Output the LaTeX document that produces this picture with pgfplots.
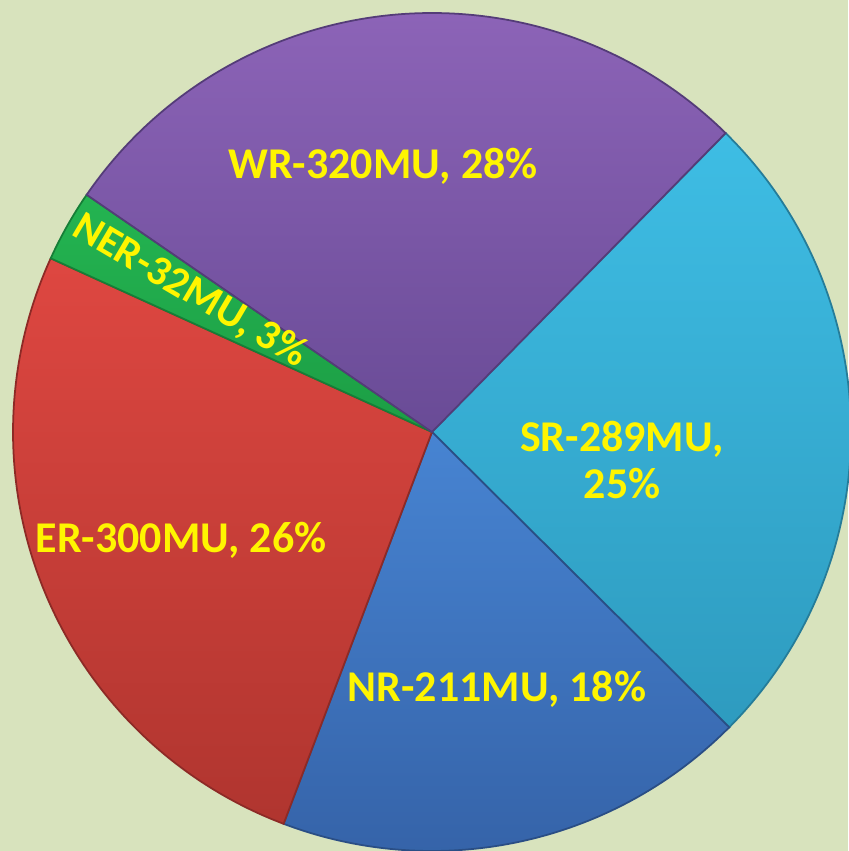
\documentclass[border=0pt]{standalone}
\usepackage{fontspec}
\setmainfont{Carlito}
\usepackage{pgfplots}
\pgfplotsset{compat=1.18}
\definecolor{bg}{HTML}{D8E3BD}
\definecolor{srT}{HTML}{3EBDE4}\definecolor{srB}{HTML}{2E9BBF}
\definecolor{nrT}{HTML}{4784D2}\definecolor{nrB}{HTML}{3461A6}
\definecolor{erT}{HTML}{DE4741}\definecolor{erB}{HTML}{B0352F}
\definecolor{neT}{HTML}{24B451}\definecolor{neB}{HTML}{1C9E45}
\definecolor{wrT}{HTML}{8D64B8}\definecolor{wrB}{HTML}{694B96}
\definecolor{lab}{HTML}{FFF500}
% data (MU)
\def\vSR{289}\def\vNR{211}\def\vER{300}\def\vNE{32}\def\vWR{320}
\pgfmathsetmacro{\tot}{\vSR+\vNR+\vER+\vNE+\vWR}
\pgfmathsetmacro{\aA}{45.5}
\pgfmathsetmacro{\aB}{\aA-360*(\vSR/\tot)}
\pgfmathsetmacro{\aC}{\aB-360*(\vNR/\tot)}
\pgfmathsetmacro{\aD}{\aC-360*(\vER/\tot)}
\pgfmathsetmacro{\aE}{\aD-360*(\vNE/\tot)}
\pgfmathsetmacro{\aF}{\aE-360*(\vWR/\tot)}
\begin{document}
\begin{tikzpicture}
\begin{axis}[scale only axis, width=8.48cm, height=8.51cm,
  xmin=0, xmax=848, ymin=0, ymax=851, hide axis, clip=false]
\fill[bg] (axis cs:0,0) rectangle (axis cs:848,851);
\def\R{4.19cm}
\shadedraw[top color=srT, bottom color=srB, draw=srB!80!black, line width=0.5pt]
  (axis cs:432,419) -- ++(\aA:\R) arc[start angle=\aA, end angle=\aB, radius=\R] -- cycle;
\shadedraw[top color=nrT, bottom color=nrB, draw=nrB!80!black, line width=0.5pt]
  (axis cs:432,419) -- ++(\aB:\R) arc[start angle=\aB, end angle=\aC, radius=\R] -- cycle;
\shadedraw[top color=erT, bottom color=erB, draw=erB!80!black, line width=0.5pt]
  (axis cs:432,419) -- ++(\aC:\R) arc[start angle=\aC, end angle=\aD, radius=\R] -- cycle;
\shadedraw[top color=neT, bottom color=neB, draw=neB!80!black, line width=0.5pt]
  (axis cs:432,419) -- ++(\aD:\R) arc[start angle=\aD, end angle=\aE, radius=\R] -- cycle;
\shadedraw[top color=wrT, bottom color=wrB, draw=wrB!80!black, line width=0.5pt]
  (axis cs:432,419) -- ++(\aE:\R) arc[start angle=\aE, end angle=\aF, radius=\R] -- cycle;
\begin{scope}[every node/.style={text=lab, font=\fontsize{12.5}{14}\selectfont\bfseries, inner sep=0pt}]
\node at (axis cs:383,685) {WR-320MU, 28\%};
\node[align=center, font=\fontsize{12.5}{13.5}\selectfont\bfseries] at (axis cs:622,391) {SR-289MU,\\25\%};
\node at (axis cs:181,311) {ER-300MU, 26\%};
\node at (axis cs:497,162) {NR-211MU, 18\%};
\node[rotate=-30.5, font=\fontsize{12}{14}\selectfont\bfseries] at (axis cs:190,560) {NER-32MU, 3\%};
\end{scope}
\end{axis}
\pgfresetboundingbox
\useasboundingbox (current axis.south west) rectangle (current axis.north east);
\end{tikzpicture}
\end{document}
